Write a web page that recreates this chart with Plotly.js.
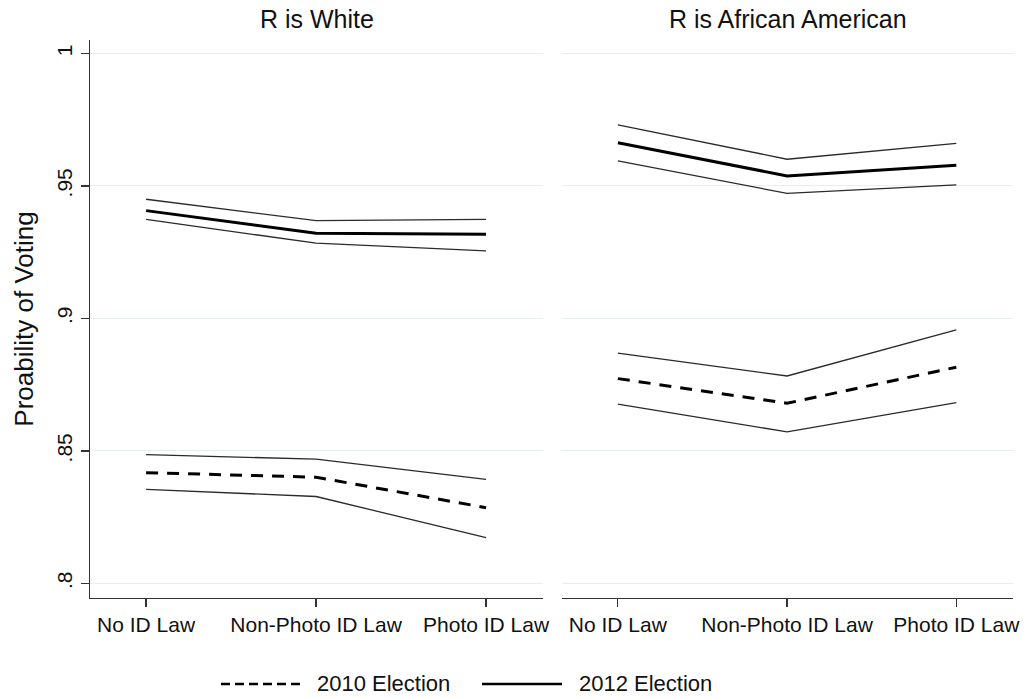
<!DOCTYPE html>
<html>
<head>
<meta charset="utf-8">
<script src="https://cdn.plot.ly/plotly-3.0.1.min.js"></script>
<style>html,body{margin:0;padding:0;background:#fff;}#chart{width:1029px;height:698px;}</style>
</head>
<body>
<div id="chart"></div>
<script>
const categories = ["No ID Law", "Non-Photo ID Law", "Photo ID Law"];
const panelTitles = ["R is White", "R is African American"];
const seriesNames = ["2010 Election", "2012 Election"];
const yTickVals = [0.8, 0.85, 0.9, 0.95, 1];
const yTickText = [".8", ".85", ".9", ".95", "1"];
const yTitle = "Proability of Voting";

const white2012Mean  = [0.9407, 0.9322, 0.9318];
const white2012Upper = [0.9450, 0.9369, 0.9374];
const white2012Lower = [0.9374, 0.9284, 0.9255];
const white2010Mean  = [0.8418, 0.8401, 0.8286];
const white2010Upper = [0.8486, 0.8469, 0.8393];
const white2010Lower = [0.8355, 0.8328, 0.8173];

const black2012Mean  = [0.9663, 0.9538, 0.9578];
const black2012Upper = [0.9731, 0.9601, 0.9661];
const black2012Lower = [0.9595, 0.9472, 0.9504];
const black2010Mean  = [0.8773, 0.8680, 0.8816];
const black2010Upper = [0.8869, 0.8783, 0.8957];
const black2010Lower = [0.8677, 0.8572, 0.8682];

const FONT = "Liberation Sans, Arial, sans-serif";
const TXT = "#111";
const ciStyle = {color: "#2a2a2a", width: 1.3};
const solidMean = {color: "#000", width: 3};
const dashMean = {color: "#000", width: 3, dash: "12px,9px"};

function tr(y, xa, ya, line, name) {
  return {x: categories, y: y, xaxis: xa, yaxis: ya, mode: "lines", line: line,
          name: name, showlegend: false, hoverinfo: "skip"};
}

const data = [
  tr(white2012Upper, "x", "y", ciStyle, "ci"),
  tr(white2012Lower, "x", "y", ciStyle, "ci"),
  tr(white2012Mean, "x", "y", solidMean, seriesNames[1]),
  tr(white2010Upper, "x", "y", ciStyle, "ci"),
  tr(white2010Lower, "x", "y", ciStyle, "ci"),
  tr(white2010Mean, "x", "y", dashMean, seriesNames[0]),
  tr(black2012Upper, "x2", "y2", ciStyle, "ci"),
  tr(black2012Lower, "x2", "y2", ciStyle, "ci"),
  tr(black2012Mean, "x2", "y2", solidMean, seriesNames[1]),
  tr(black2010Upper, "x2", "y2", ciStyle, "ci"),
  tr(black2010Lower, "x2", "y2", ciStyle, "ci"),
  tr(black2010Mean, "x2", "y2", dashMean, seriesNames[0])
];

const xCommon = {
  type: "category", range: [-0.33, 2.335], showline: true, linecolor: "#333", linewidth: 1.2,
  ticks: "outside", ticklen: 8, tickcolor: "#333", tickwidth: 1.2, showgrid: false, zeroline: false,
  tickfont: {family: FONT, size: 21, color: TXT}, fixedrange: true
};
const yCommon = {
  range: [0.7945, 1.0051], tickvals: yTickVals, ticktext: yTickText,
  showgrid: true, gridcolor: "#e6eef0", gridwidth: 1, zeroline: false, fixedrange: true
};

const layout = {
  width: 1029, height: 698,
  margin: {l: 90, r: 16, t: 40, b: 100},
  paper_bgcolor: "#fff", plot_bgcolor: "#fff",
  showlegend: false,
  font: {family: FONT, color: TXT},
  xaxis: Object.assign({}, xCommon, {domain: [0, 0.4908], anchor: "y"}),
  xaxis2: Object.assign({}, xCommon, {domain: [0.5114, 1], anchor: "y2"}),
  yaxis: Object.assign({}, yCommon, {
    anchor: "x", showline: true, linecolor: "#333", linewidth: 1.2,
    ticks: "outside", ticklen: 8, tickcolor: "#333", tickwidth: 1.2, tickangle: -90,
    tickfont: {family: FONT, size: 21, color: TXT},
    title: {text: yTitle, font: {family: FONT, size: 26, color: TXT}, standoff: 12}
  }),
  yaxis2: Object.assign({}, yCommon, {anchor: "x2", matches: "y", showline: false, ticks: "", showticklabels: false}),
  annotations: [
    {text: panelTitles[0], xref: "x domain", yref: "paper", x: 0.5, y: 1, yanchor: "bottom", yshift: 5,
     showarrow: false, font: {family: FONT, size: 25, color: TXT}},
    {text: panelTitles[1], xref: "x2 domain", yref: "paper", x: 0.5, y: 1, yanchor: "bottom", yshift: 5,
     showarrow: false, font: {family: FONT, size: 25, color: TXT}},
    {text: seriesNames[0], xref: "paper", yref: "paper", x: 0.2438, y: -0.1541, xanchor: "left", yanchor: "middle",
     showarrow: false, font: {family: FONT, size: 22, color: TXT}},
    {text: seriesNames[1], xref: "paper", yref: "paper", x: 0.5276, y: -0.1541, xanchor: "left", yanchor: "middle",
     showarrow: false, font: {family: FONT, size: 22, color: TXT}}
  ],
  shapes: [
    {type: "line", xref: "paper", yref: "paper", x0: 0.1419, x1: 0.2275, y0: -0.1541, y1: -0.1541,
     line: {color: "#000", width: 2.5, dash: "9px,5px"}},
    {type: "line", xref: "paper", yref: "paper", x0: 0.4247, x1: 0.5114, y0: -0.1541, y1: -0.1541,
     line: {color: "#000", width: 2.5}}
  ]
};

Plotly.newPlot("chart", data, layout, {displayModeBar: false, staticPlot: true});
</script>
</body>
</html>
